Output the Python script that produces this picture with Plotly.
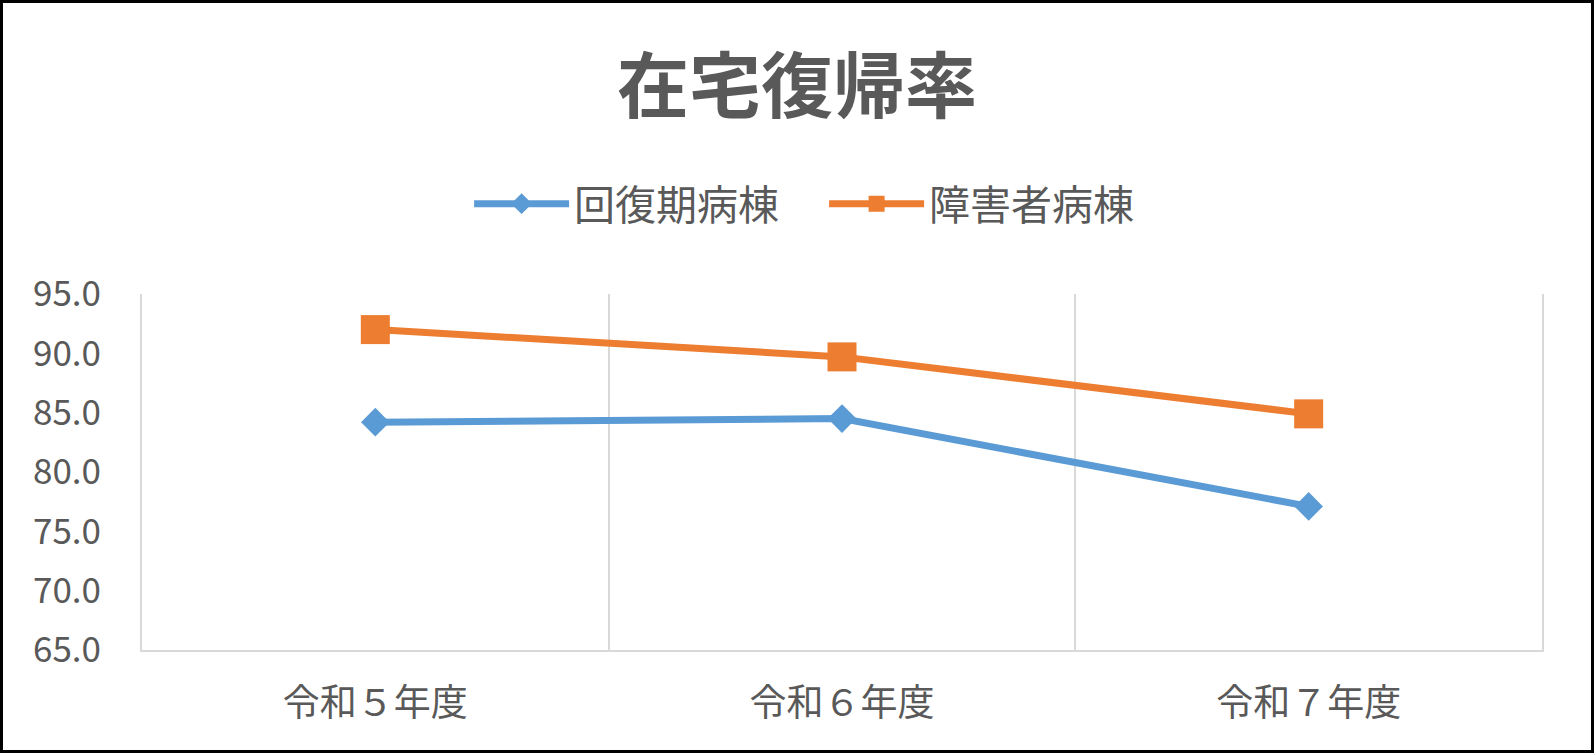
import plotly.graph_objects as go

# 在宅復帰率（%）
years = ["令和５年度", "令和６年度", "令和７年度"]
kaifukuki = [84.2, 84.5, 77.1]
shogaisha = [92.0, 89.7, 84.9]
y_ticks = [65, 70, 75, 80, 85, 90, 95]

W, H = 1594, 753
L, R, T, B = 142, 52, 294, 103
pw, ph = W - L - R, H - T - B

gray = "#595959"
grid = "#D9D9D9"
font = "Noto Sans CJK JP"

fig = go.Figure()
fig.add_trace(go.Scatter(
    x=years, y=kaifukuki, name="回復期病棟", mode="lines+markers",
    line=dict(color="#5B9BD5", width=7),
    marker=dict(symbol="diamond", size=22, color="#5B9BD5"),
))
fig.add_trace(go.Scatter(
    x=years, y=shogaisha, name="障害者病棟", mode="lines+markers",
    line=dict(color="#ED7D31", width=7),
    marker=dict(symbol="square", size=29, color="#ED7D31"),
))

fig.update_layout(
    width=W, height=H,
    margin=dict(l=L, r=R, t=T, b=B, pad=0, autoexpand=False),
    paper_bgcolor="white", plot_bgcolor="white",
    font=dict(family=font, color=gray),
    title=dict(text="<b>在宅復帰率</b>", x=0.5, xanchor="center",
               y=1 - 87 / H, yanchor="middle",
               font=dict(size=72, color=gray, family=font)),
    legend=dict(orientation="h", xref="container", yref="container",
                x=0.517, xanchor="center", y=1 - 204 / H, yanchor="middle",
                font=dict(size=41, color=gray, family=font),
                itemwidth=95, entrywidth=245, entrywidthmode="pixels",
                bgcolor="rgba(0,0,0,0)"),
    showlegend=True,
)

fig.update_xaxes(
    type="category", range=[-0.5, 2.5], automargin=False, tickangle=0,
    showgrid=True, gridcolor=grid, gridwidth=2, tickson="boundaries",
    showline=True, linecolor=grid, linewidth=2,
    ticks="", ticklabelstandoff=20,
    tickfont=dict(size=37, color=gray, family=font),
)
fig.update_yaxes(
    range=[65, 95], tickvals=y_ticks, tickformat=".1f", automargin=False,
    showgrid=False, zeroline=False,
    showline=True, linecolor=grid, linewidth=2, mirror=True,
    ticks="", ticklabelstandoff=32,
    tickfont=dict(size=35, color=gray, family=font),
)

# outer black frame of the chart picture
fig.add_shape(type="rect", xref="paper", yref="paper",
              x0=-(L - 1.5) / pw, x1=1 + (R - 1.5) / pw,
              y0=-(B - 1.5) / ph, y1=1 + (T - 1.5) / ph,
              line=dict(color="black", width=3), layer="above")

fig.write_html("out.html", config={"displayModeBar": False},
               post_script="document.body.style.margin='0';")
